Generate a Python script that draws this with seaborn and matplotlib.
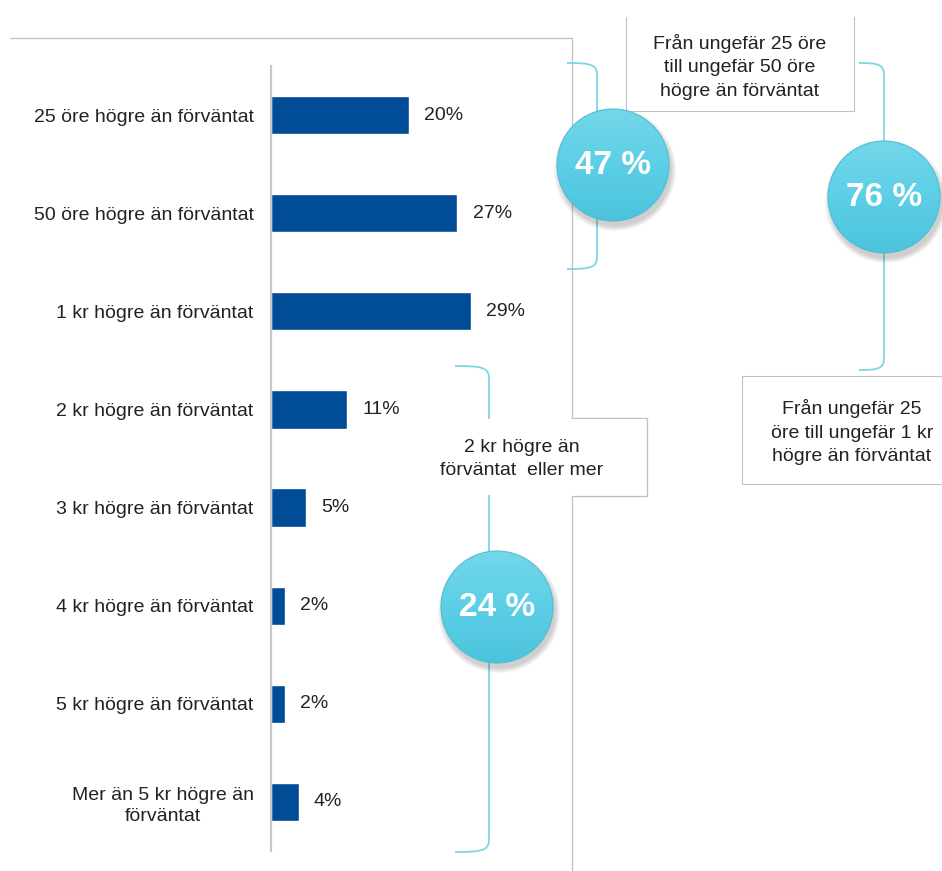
import numpy as np
import pandas as pd
import matplotlib
matplotlib.use("Agg")
import matplotlib.pyplot as plt
import seaborn as sns
from matplotlib.patches import Circle, Rectangle, PathPatch
from matplotlib.path import Path

# Survey answers: how much higher than expected a price may be
categories = [
    "25 öre högre än förväntat",
    "50 öre högre än förväntat",
    "1 kr högre än förväntat",
    "2 kr högre än förväntat",
    "3 kr högre än förväntat",
    "4 kr högre än förväntat",
    "5 kr högre än förväntat",
    "Mer än 5 kr högre än\nförväntat",
]
shares = [20, 27, 29, 11, 5, 2, 2, 4]

# Grouped totals shown in the bubbles
up_to_50_ore = sum(shares[:2])
up_to_1_kr = sum(shares[:3])
two_kr_or_more = sum(shares[3:])

box_top_text = "Från ungefär 25 öre\ntill ungefär 50 öre\nhögre än förväntat"
box_right_text = "Från ungefär 25\nöre till ungefär 1 kr\nhögre än förväntat"
box_mid_text = "2 kr högre än\nförväntat  eller mer"

sns.set_theme(style="white")
plt.rcParams["font.family"] = ["Liberation Sans", "DejaVu Sans"]

W, H = 942, 871
BAR_BLUE = "#004C97"
CYAN_LINE = "#7FD4E4"
GRAY = "#BFBFBF"
TXT = "#222222"
FS = 14

fig = plt.figure(figsize=(W / 100, H / 100), dpi=100)
fig.patch.set_facecolor("white")

df = pd.DataFrame({"category": categories, "share": shares})

# Bar axes: x = 0 sits at pixel 271, about 6.9 px per percent
ax = fig.add_axes([271 / W, 1 - 851 / H, 300 / W, 785 / H])
ax.patch.set_alpha(0)
sns.barplot(data=df, x="share", y="category", color=BAR_BLUE, saturation=1,
            width=0.39, ax=ax)
ax.set_xlim(0, 300 / 6.9)
ax.set_ylim(7.5, -0.5)
ax.set_xticks([])
ax.set_xlabel("")
ax.set_ylabel("")
for s in ["top", "right", "bottom"]:
    ax.spines[s].set_visible(False)
ax.spines["left"].set_color("#C8C8C8")
ax.spines["left"].set_linewidth(1.6)
ax.set_yticks(range(len(categories)))
ax.set_yticklabels(categories, multialignment="center", linespacing=1.35)
ax.tick_params(axis="y", length=0, pad=12.5, labelsize=FS, labelcolor=TXT)
ax.bar_label(ax.containers[0], labels=[f"{v}%" for v in shares],
             padding=11, fontsize=FS, color=TXT)

# Overlay axes in pixel coordinates for frames, brackets and bubbles
ov = fig.add_axes([0, 0, 1, 1])
ov.set_xlim(0, W)
ov.set_ylim(H, 0)
ov.axis("off")
ov.patch.set_alpha(0)

# Outer frame around the bars, stepping round the middle label
ov.plot([10, 572, 572, 647, 647, 572, 572], [38, 38, 418, 418, 496, 496, 871],
        color=GRAY, lw=0.9, zorder=1, solid_joinstyle="miter")


def bracket(x, y0, y1, reach):
    verts = [(x - reach, y0), (x - reach * 0.25, y0), (x, y0 + 1), (x, y0 + 12),
             (x, y1 - 12),
             (x, y1 - 1), (x - reach * 0.25, y1), (x - reach, y1)]
    codes = [Path.MOVETO, Path.CURVE4, Path.CURVE4, Path.CURVE4,
             Path.LINETO,
             Path.CURVE4, Path.CURVE4, Path.CURVE4]
    ov.add_patch(PathPatch(Path(verts, codes), fill=False, edgecolor=CYAN_LINE,
                           lw=1.3, zorder=2))


bracket(597, 63, 269, 30)
bracket(884, 63, 370, 25)
bracket(489, 366, 852, 34)

# Text boxes
ov.add_patch(Rectangle((626, 17), 228, 94, facecolor="white", edgecolor="none", zorder=3))
ov.plot([626, 626, 854, 854], [17, 111, 111, 17], color=GRAY, lw=0.8, zorder=3)
ov.text(740, 67, box_top_text, ha="center", va="center", fontsize=FS, color=TXT,
        linespacing=1.5, zorder=4)

ov.add_patch(Rectangle((742, 376), 230, 108, facecolor="white", edgecolor=GRAY,
                       lw=0.8, zorder=3))
ov.text(852, 432, box_right_text, ha="center", va="center", fontsize=FS, color=TXT,
        linespacing=1.5, zorder=4)

ov.add_patch(Rectangle((430, 419), 216, 76, facecolor="white", edgecolor="none", zorder=3))
ov.text(522, 459, box_mid_text, ha="center", va="center", fontsize=FS, color=TXT,
        linespacing=1.45, zorder=4)

# Bubbles with totals
grad = np.linspace(0, 1, 256)[:, None]
cmap = matplotlib.colors.LinearSegmentedColormap.from_list(
    "bubble", ["#74D7EA", "#5CCFE6", "#4CC3DD"])


def bubble(cx, cy, r, label):
    for k in range(7):
        ov.add_patch(Circle((cx + 2, cy + 5), r + 5 - k * 0.8, facecolor="#555555",
                            edgecolor="none", alpha=0.045, zorder=5))
    clip = Circle((cx, cy), r, facecolor="none", edgecolor="none",
                  transform=ov.transData)
    ov.add_patch(clip)
    im = ov.imshow(grad, cmap=cmap, extent=(cx - r, cx + r, cy + r, cy - r),
                   origin="upper", aspect="auto", zorder=6, interpolation="bilinear")
    im.set_clip_path(clip)
    ov.add_patch(Circle((cx, cy), r, facecolor="none", edgecolor="#52BDD4",
                        lw=0.8, zorder=7))
    ov.text(cx, cy, label, ha="center", va="center", fontsize=24, fontweight="bold",
            color="white", zorder=8)


bubble(613, 165, 56, f"{up_to_50_ore} %")
bubble(884, 197, 56, f"{up_to_1_kr} %")
bubble(497, 607, 56, f"{two_kr_or_more} %")

ov.set_xlim(0, W)
ov.set_ylim(H, 0)

fig.savefig("out.png", dpi=100, facecolor="white")
